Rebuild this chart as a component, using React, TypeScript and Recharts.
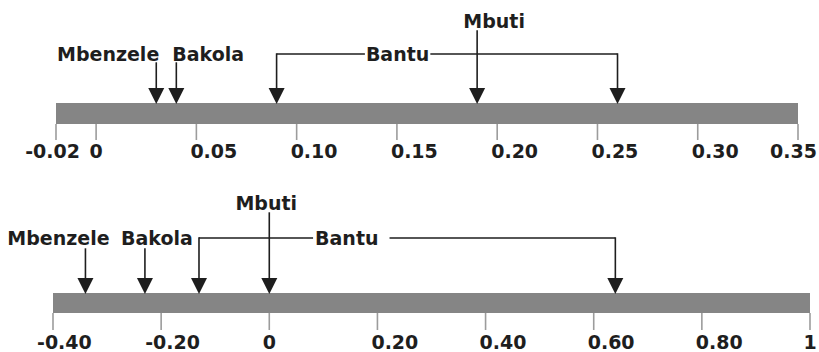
import React from 'react';
import { ComposedChart, XAxis, YAxis, ReferenceArea, Line, Scatter } from 'recharts';

// upper scale
const TOP_TICKS = [-0.02, 0, 0.05, 0.1, 0.15, 0.2, 0.25, 0.3, 0.35];
const TOP_TICK_LABELS = ['-0.02', '0', '0.05', '0.10', '0.15', '0.20', '0.25', '0.30', '0.35'];
const TOP_GROUPS = ['Mbenzele', 'Bakola', 'Bantu', 'Mbuti', 'Bantu'];
const TOP_VALUES = [0.03, 0.04, 0.09, 0.19, 0.26];

// lower scale
const BOTTOM_TICKS = [-0.4, -0.2, 0, 0.2, 0.4, 0.6, 0.8, 1];
const BOTTOM_TICK_LABELS = ['-0.40', '-0.20', '0', '0.20', '0.40', '0.60', '0.80', '1'];
const BOTTOM_GROUPS = ['Mbenzele', 'Bakola', 'Bantu', 'Mbuti', 'Bantu'];
const BOTTOM_VALUES = [-0.34, -0.23, -0.13, 0, 0.64];

const W = 819;
const INK = '#1e1e1e';
const BAR = '#858585';
const TICK = '#9c9c9c';
const FONT = '"DejaVu Sans", Verdana, sans-serif';
const FS = 19;

type LabelPos = { anchor: 'start' | 'middle' | 'end'; dx: number; row: 'high' | 'low' };

type Layout = {
    height: number;
    barTop: number;
    barBottom: number;
    tickSize: number;
    tickMargin: number;
    left: number;
    right: number;
    highY: number;
    lowY: number;
    highStem: number;
    lowStem: number;
    bracketY: number;
    labels: Record<string, LabelPos>;
    bantuAt: number;
    bantuPad: [number, number];
    firstTickEnd: boolean;
};

const TOP_LAYOUT: Layout = {
    height: 176,
    barTop: 103,
    barBottom: 124,
    tickSize: 16,
    tickMargin: 5,
    left: 56,
    right: 21,
    highY: 21,
    lowY: 54,
    highStem: 31,
    lowStem: 63,
    bracketY: 54,
    labels: {
        Mbenzele: { anchor: 'end', dx: 3, row: 'low' },
        Bakola: { anchor: 'start', dx: -4, row: 'low' },
        Mbuti: { anchor: 'middle', dx: 17, row: 'high' },
    },
    bantuAt: 0.355,
    bantuPad: [1, 1],
    firstTickEnd: true,
};

const BOTTOM_LAYOUT: Layout = {
    height: 176,
    barTop: 117,
    barBottom: 137,
    tickSize: 17,
    tickMargin: 6,
    left: 53,
    right: 9,
    highY: 27,
    lowY: 61.5,
    highStem: 37,
    lowStem: 73,
    bracketY: 62,
    labels: {
        Mbenzele: { anchor: 'middle', dx: -27, row: 'low' },
        Bakola: { anchor: 'middle', dx: 12, row: 'low' },
        Mbuti: { anchor: 'middle', dx: -3, row: 'high' },
    },
    bantuAt: 0.355,
    bantuPad: [2, 11],
    firstTickEnd: false,
};

const Panel = ({
    ticks,
    tickLabels,
    groups,
    values,
    layout,
}: {
    ticks: number[];
    tickLabels: string[];
    groups: string[];
    values: number[];
    layout: Layout;
}) => {
    const plotH = layout.barBottom;
    // y axis runs 1:1 with pixels from the top of the panel
    const arrows = groups.map((g, i) => ({ x: values[i], y: layout.barTop, group: g }));
    const bantu = arrows.filter((a) => a.group === 'Bantu');
    const bracket = bantu.map((a) => ({ x: a.x, y: layout.bracketY }));

    const labels: any[] = arrows
        .filter((a) => a.group !== 'Bantu')
        .map((a) => {
            const pos = layout.labels[a.group];
            return {
                x: a.x,
                y: pos.row === 'high' ? layout.highY : layout.lowY,
                text: a.group,
                anchor: pos.anchor,
                dx: pos.dx,
                bg: false,
            };
        });
    if (bantu.length === 2) {
        labels.push({
            x: bantu[0].x + layout.bantuAt * (bantu[1].x - bantu[0].x),
            y: layout.bracketY,
            text: 'Bantu',
            anchor: 'middle',
            dx: 0,
            bg: true,
        });
    }

    const stemTop = (group: string) => {
        if (group === 'Bantu') return layout.bracketY;
        return layout.labels[group].row === 'high' ? layout.highStem : layout.lowStem;
    };

    const renderArrow = (props: any) => {
        const { cx, cy, payload } = props;
        const headH = 15;
        const headW = 8;
        return (
            <g>
                <line x1={cx} x2={cx} y1={stemTop(payload.group) - 0.7} y2={cy - headH + 2} stroke={INK} strokeWidth={1.6} />
                <polygon points={`${cx - headW},${cy - headH} ${cx + headW},${cy - headH} ${cx},${cy + 1}`} fill={INK} />
            </g>
        );
    };

    const renderLabel = (props: any) => {
        const { cx, cy, payload } = props;
        const tx = cx + payload.dx;
        const w = payload.text.length * 0.668 * FS;
        return (
            <g>
                {payload.bg && (
                    <rect
                        x={tx - w / 2 - layout.bantuPad[0]}
                        y={cy - 6}
                        width={w + layout.bantuPad[0] + layout.bantuPad[1]}
                        height={12}
                        fill="#ffffff"
                    />
                )}
                <text
                    x={tx}
                    y={cy + 7}
                    textAnchor={payload.anchor}
                    fontFamily={FONT}
                    fontWeight="bold"
                    fontSize={FS}
                    fill={INK}
                >
                    {payload.text}
                </text>
            </g>
        );
    };

    const renderTick = (props: any) => {
        const { x, y, payload } = props;
        const i = ticks.indexOf(payload.value);
        const text = tickLabels[i] ?? String(payload.value);
        let anchor: 'start' | 'middle' | 'end' = 'start';
        let tx = x - (text.startsWith('-') ? 16 : 6);
        if (text.length === 1) {
            anchor = 'middle';
            tx = x;
        }
        if (i === 0 && layout.firstTickEnd) {
            anchor = 'end';
            tx = x + 24;
        }
        if (i === ticks.length - 1 && text.length > 1) {
            anchor = 'end';
            tx = W - 2;
        }
        return (
            <text x={tx} y={y} dy="0.71em" textAnchor={anchor} fontFamily={FONT} fontWeight="bold" fontSize={FS} fill={INK}>
                {text}
            </text>
        );
    };

    return (
        <ComposedChart
            width={W}
            height={layout.height}
            margin={{ top: 0, right: layout.right, bottom: 0, left: layout.left }}
        >
            <XAxis
                type="number"
                dataKey="x"
                domain={[ticks[0], ticks[ticks.length - 1]]}
                ticks={ticks}
                interval={0}
                axisLine={false}
                tickLine={{ stroke: TICK, strokeWidth: 1.6 }}
                tickSize={layout.tickSize}
                tickMargin={layout.tickMargin}
                height={layout.height - plotH}
                tick={renderTick}
            />
            <YAxis type="number" dataKey="y" domain={[0, plotH]} reversed hide />
            <ReferenceArea
                x1={ticks[0]}
                x2={ticks[ticks.length - 1]}
                y1={layout.barTop}
                y2={layout.barBottom}
                fill={BAR}
                fillOpacity={1}
                stroke="none"
            />
            <Line data={bracket} dataKey="y" stroke={INK} strokeWidth={1.4} dot={false} isAnimationActive={false} />
            <Scatter data={arrows} shape={renderArrow} isAnimationActive={false} />
            <Scatter data={labels} shape={renderLabel} isAnimationActive={false} />
        </ComposedChart>
    );
};

export default function App() {
    return (
        <div style={{ position: 'absolute', left: 0, top: 0, width: W, height: 352, background: '#fff' }}>
            <Panel
                ticks={TOP_TICKS}
                tickLabels={TOP_TICK_LABELS}
                groups={TOP_GROUPS}
                values={TOP_VALUES}
                layout={TOP_LAYOUT}
            />
            <Panel
                ticks={BOTTOM_TICKS}
                tickLabels={BOTTOM_TICK_LABELS}
                groups={BOTTOM_GROUPS}
                values={BOTTOM_VALUES}
                layout={BOTTOM_LAYOUT}
            />
        </div>
    );
}
